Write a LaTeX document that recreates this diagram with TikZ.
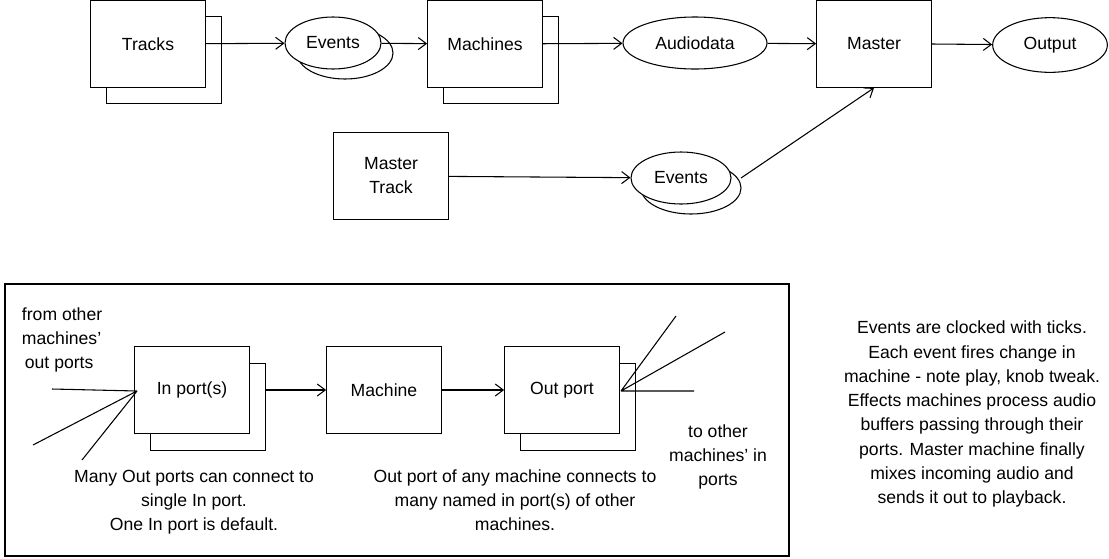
\documentclass[tikz,border=0pt]{standalone}
\usepackage{fontspec}
\setmainfont{Liberation Sans}
\usetikzlibrary{arrows.meta,shapes.geometric}

\begin{document}
\begin{tikzpicture}[x=0.75pt,y=-0.75pt,line width=0.8pt,
    box/.style={draw,fill=white,minimum width=86pt,minimum height=65pt,inner sep=0pt},
    bubble/.style={draw,fill=white,ellipse,inner sep=0pt},
    txt/.style={font=\fontsize{13.2}{18}\selectfont,align=center},
    link/.style={-{Straight Barb[length=6pt,width=9pt]}}]
  \useasboundingbox (0,0) rectangle (1109,558);
  % top chain
  \node[box] (tracksb) at (164,60) {};
  \node[box,txt] (tracks) at (148,44) {Tracks};
  \node[bubble,minimum width=72pt,minimum height=39pt] (evb) at (345,53) {};
  \node[bubble,txt,minimum width=72pt,minimum height=39pt] (ev) at (333,43) {Events};
  \node[box] (machb) at (501,60) {};
  \node[box,txt] (mach) at (485,44) {Machines};
  \node[bubble,txt,minimum width=108pt,minimum height=39pt] (audio) at (695,43) {Audiodata};
  \node[box,txt] (master) at (874,44) {Master};
  \node[bubble,txt,minimum width=86pt,minimum height=41pt] (out) at (1050,45) {Output};
  \draw[link] (tracks) -- (ev);
  \draw[link] (ev) -- (mach);
  \draw[link] (mach) -- (audio);
  \draw[link] (audio) -- (master);
  \draw[link] (master.east) -- (out);
  % master track
  \node[box,txt] (mtrack) at (391,176) {Master\\Track};
  \node[bubble,minimum width=75pt,minimum height=39pt] (ev2b) at (691,188) {};
  \node[bubble,txt,minimum width=75pt,minimum height=39pt] (ev2) at (681,178) {Events};
  \draw[link] (mtrack) -- (ev2);
  \coordinate (ev2e) at (741,178);
  \draw[link] (ev2e) -- (master.south);
  % port detail
  \draw (5,284) rectangle (789,556);
  \node[box] (inb) at (208,407) {};
  \node[box,txt] (in) at (192,390) {In port(s)};
  \node[box,txt] (pm) at (384,390) {Machine};
  \node[box] (opb) at (578,407) {};
  \node[box,txt] (op) at (562,390) {Out port};
  \draw[link] (inb.east |- in) -- (pm);
  \draw[link] (pm) -- (op);
  \coordinate (inj) at (137,391);
  \coordinate (s1) at (52,389);
  \coordinate (s2) at (33,445);
  \coordinate (s3) at (82,460);
  \draw (s1) -- (inj) (s2) -- (inj) (s3) -- (inj);
  \coordinate (opj) at (621,391);
  \coordinate (t1) at (676,316);
  \coordinate (t2) at (725,332);
  \coordinate (t3) at (694,391);
  \draw (opj) -- (t1) (opj) -- (t2) (opj) -- (t3);
  % notes
  \node[txt,anchor=north west,align=left] (from) at (17,303) {from other\\machines'\\\,out ports};
  \node[txt,anchor=north] (many) at (194,465) {Many Out ports can connect to\\single In port.\\One In port is default.};
  \node[txt,anchor=north] (anyop) at (515,465) {Out port of any machine connects to\\many named in port(s) of other\\machines.};
  \node[txt,anchor=north] (toother) at (718,420) {to other\\machines' in\\ports};
  \node[txt,anchor=north,font=\fontsize{13.2}{18.2}\selectfont] (notes) at (972,316) {Events are clocked with ticks.\\Each event fires change in\\machine - note play, knob tweak.\\Effects machines process audio\\buffers passing through their\\ports. Master machine finally\\mixes incoming audio and\\sends it out to playback.};
\end{tikzpicture}
\end{document}
